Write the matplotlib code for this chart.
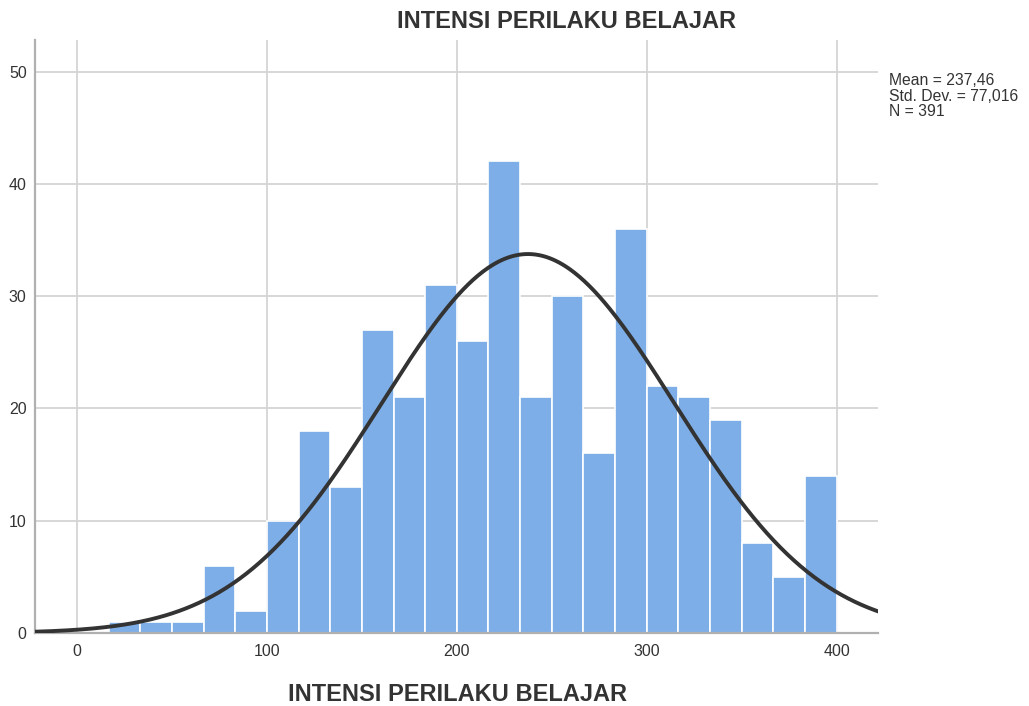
import numpy as np
import matplotlib.pyplot as plt

plt.rcParams['font.family'] = ['Liberation Sans', 'DejaVu Sans']

# histogram data (bin width 400/24)
bin_width = 400 / 24
bin_starts = [bin_width * i for i in range(1, 24)]
counts = [1, 1, 1, 6, 2, 10, 18, 13, 27, 21, 31, 26, 42, 21, 30, 16, 36,
          22, 21, 19, 8, 5, 14]

mean = 237.46
std = 77.016
n = 391

x_ticks = [0, 100, 200, 300, 400]
y_ticks = [0, 10, 20, 30, 40, 50]

fig = plt.figure(figsize=(10.29, 7.06), dpi=100)
ax = fig.add_axes([0.034, 0.1034, 0.819, 0.8396])

ax.bar(bin_starts, counts, width=bin_width, align='edge', color='#7eaee8',
       edgecolor='white', linewidth=1.2, zorder=2)

xs = np.linspace(-22, 422, 500)
ys = n * bin_width / (std * np.sqrt(2 * np.pi)) * np.exp(-0.5 * ((xs - mean) / std) ** 2)
ax.plot(xs, ys, color='#333333', linewidth=2.8, zorder=3)

ax.set_xlim(-22.1, 421.6)
ax.set_ylim(0, 52.8)
ax.set_xticks(x_ticks)
ax.set_yticks(y_ticks)
ax.grid(True, color='#d4d4d4', linewidth=1.3, zorder=0)
ax.set_axisbelow(True)
ax.tick_params(length=0, labelsize=11.5, colors='#333333', pad=8)
ax.tick_params(axis='y', pad=6)

for s in ['top', 'right']:
    ax.spines[s].set_visible(False)
for s in ['left', 'bottom']:
    ax.spines[s].set_color('#b0b0b0')
    ax.spines[s].set_linewidth(1.6)

fig.text(0.551, 0.969, 'INTENSI PERILAKU BELAJAR', ha='center', va='center',
         fontsize=17, fontweight='bold', color='#333333')
fig.text(0.445, 0.016, 'INTENSI PERILAKU BELAJAR', ha='center', va='center',
         fontsize=17, fontweight='bold', color='#333333')
fig.text(0.864, 0.864, 'Mean = 237,46\nStd. Dev. = 77,016\nN = 391',
         ha='left', va='center', fontsize=11.3, color='#333333', linespacing=1.08)

fig.savefig('out.png', dpi=100)
